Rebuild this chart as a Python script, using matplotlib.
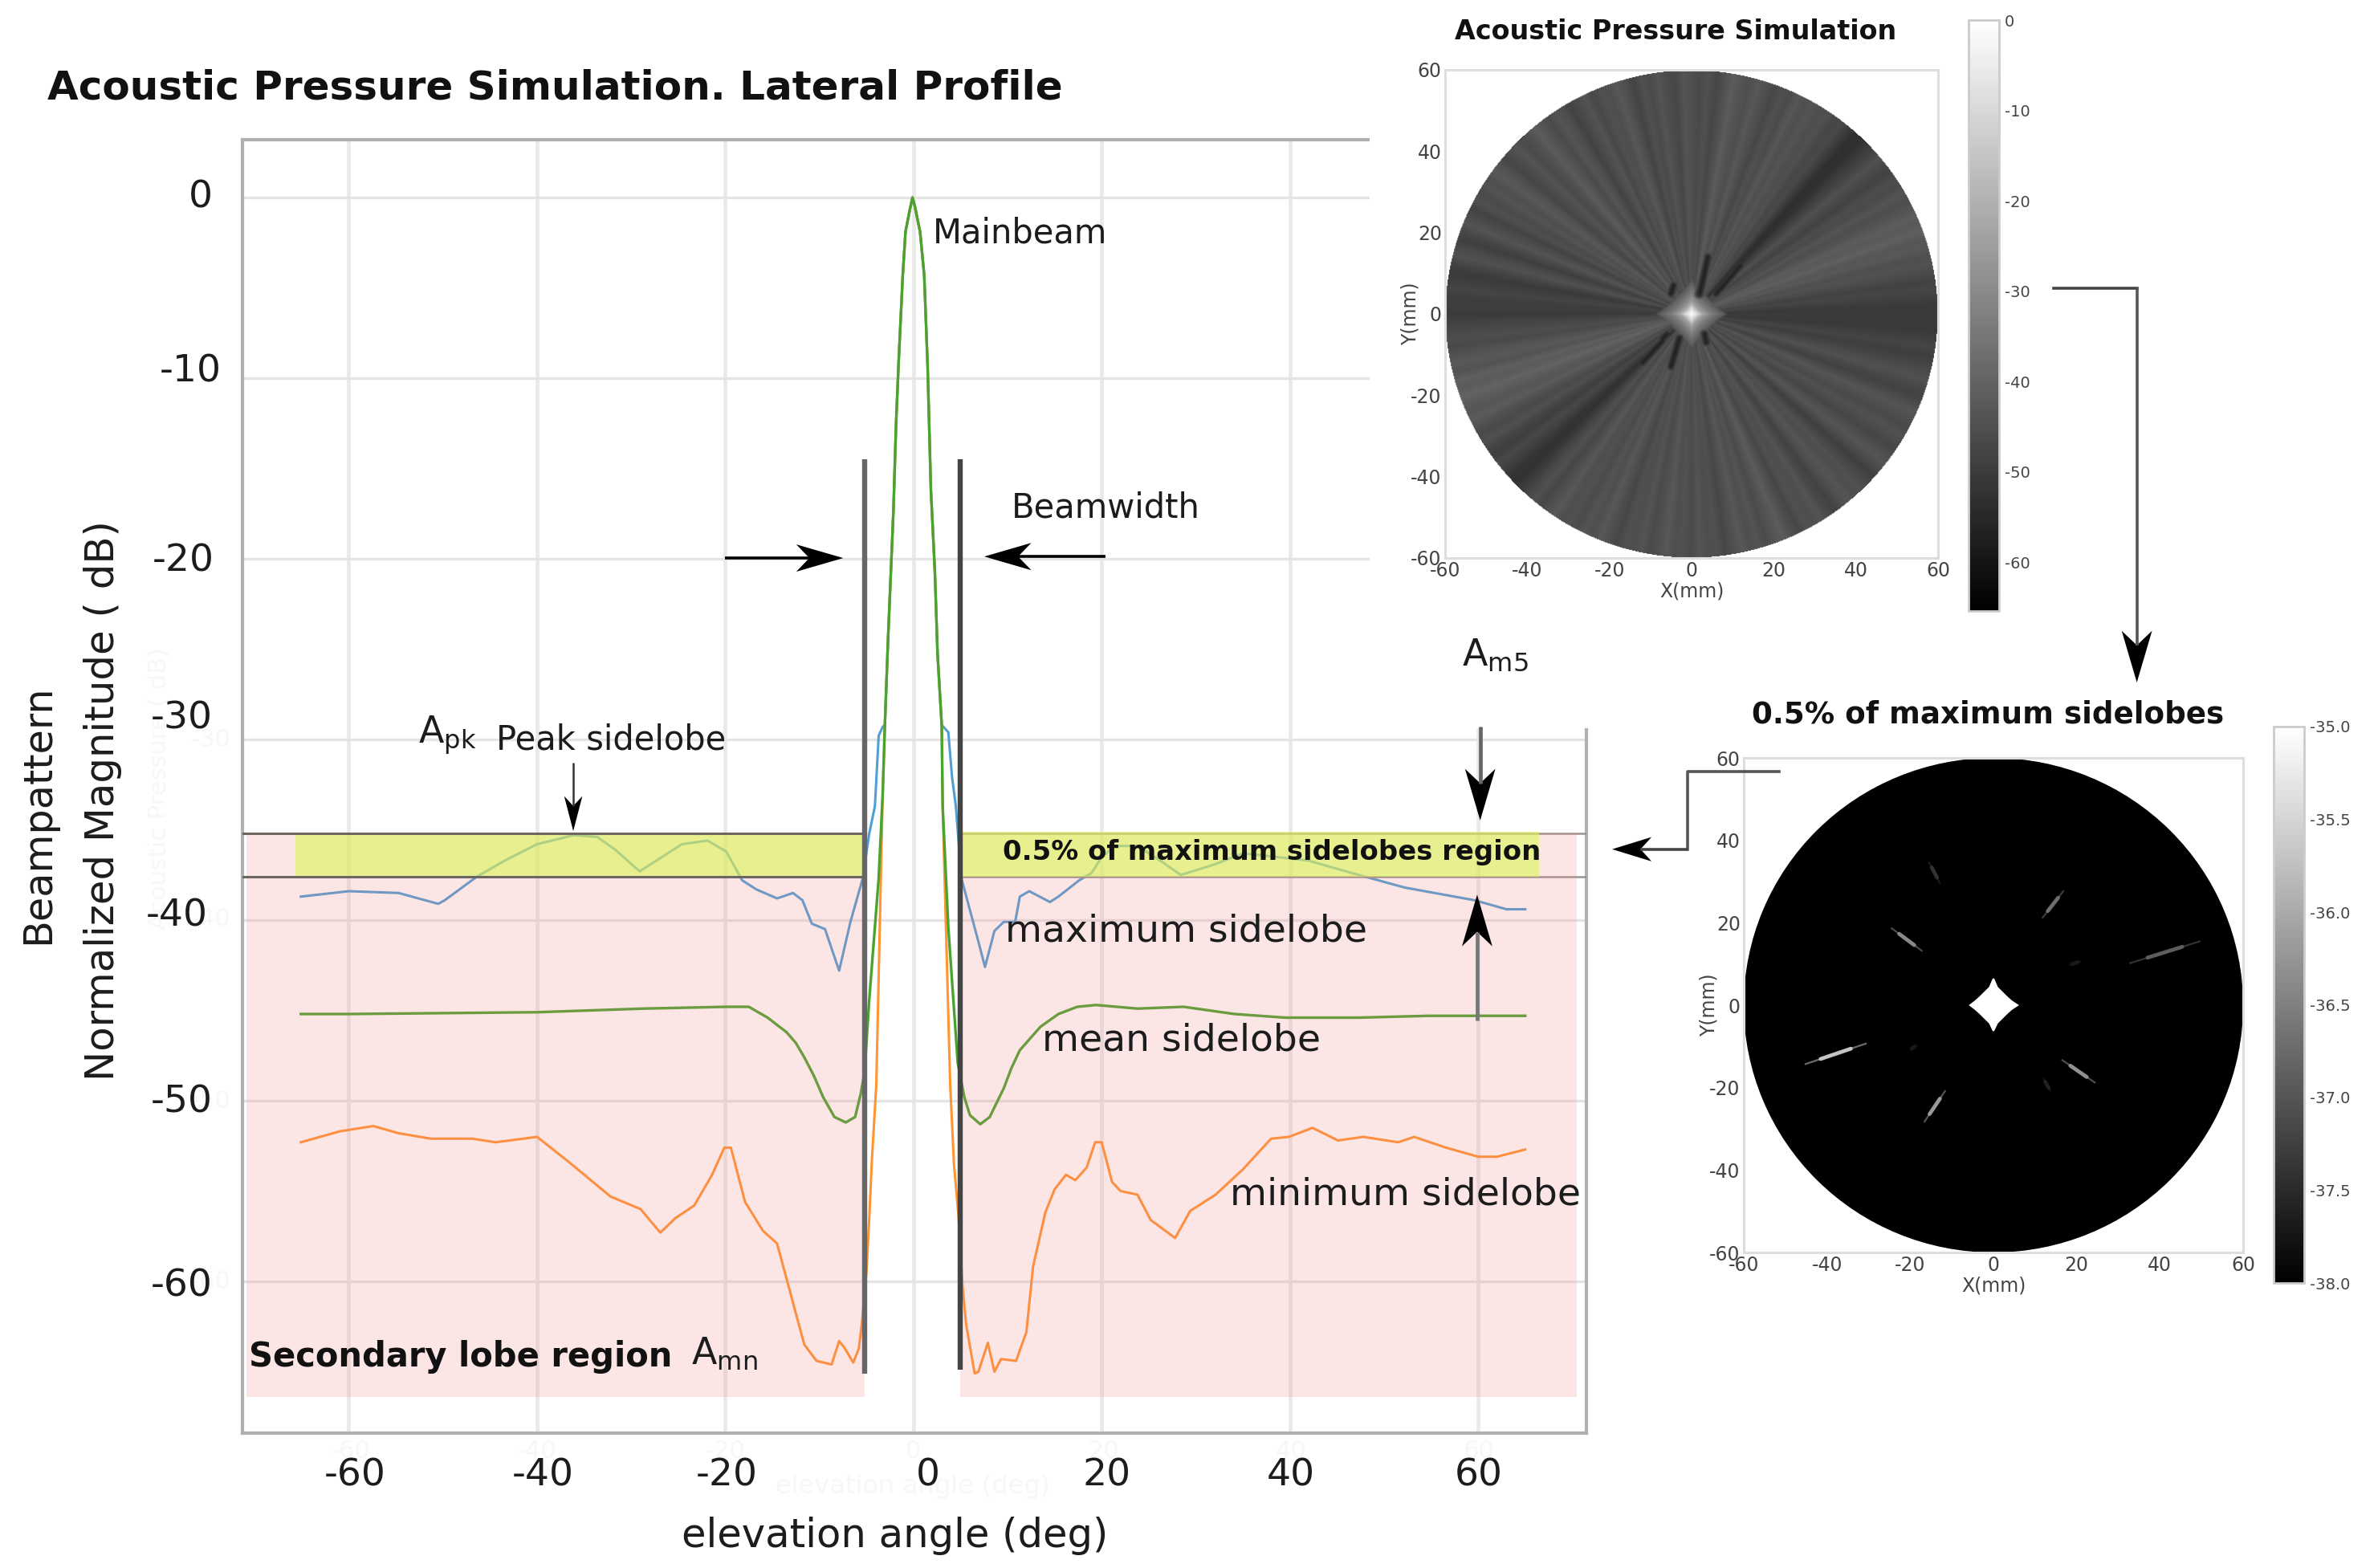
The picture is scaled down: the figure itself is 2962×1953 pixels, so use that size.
import numpy as np
import matplotlib
matplotlib.use('Agg')
import matplotlib.pyplot as plt
from matplotlib.patches import Rectangle, Circle

plt.rcParams['axes.unicode_minus'] = False

# lateral profile (deg, dB)
lobe_deg = [-3.04, -2.7, -2.4, -2.13, -1.85, -1.56, -1.14, -0.85, -0.4, -0.1, 0.15, 0.7, 1.14, 1.5, 1.85, 2.27, 2.56, 3.0]
lobe_db = [-29.2, -24.4, -20.7, -17.3, -12.5, -8.9, -4.3, -1.9, -0.7, 0.0, -0.5, -1.9, -4.3, -9.3, -16.2, -20.7, -25.3, -29.2]

max_left_deg = [-65.1, -60, -54.7, -50.5, -49.8, -46.4, -43.4, -40, -36.1, -33.6, -31.7, -29.1, -27.3, -24.6, -21.9, -19.9, -18.2, -16.7, -14.5, -12.8, -11.8, -10.8, -9.4, -7.9, -6.7, -5.4, -4.7, -4.1, -3.7, -3.27]
max_left_db = [-38.7, -38.4, -38.5, -39.1, -38.9, -37.6, -36.7, -35.8, -35.3, -35.4, -36.1, -37.3, -36.7, -35.8, -35.6, -36.2, -37.8, -38.3, -38.8, -38.5, -38.9, -40.2, -40.5, -42.8, -40.1, -37.7, -35.2, -33.7, -29.8, -29.3]
max_right_deg = [3.7, 4.1, 4.5, 5.1, 6.9, 7.6, 8.6, 9.6, 10.8, 11.3, 12.3, 14.5, 15.4, 17.6, 18.9, 19.9, 21.3, 23.8, 26.2, 28.4, 32.1, 35, 41.9, 47.3, 52.2, 59.6, 63, 65]
max_right_db = [-29.6, -32.1, -33.7, -37.7, -41.2, -42.6, -40.6, -40.1, -40.1, -38.7, -38.4, -39.0, -38.7, -37.8, -37.4, -36.6, -35.9, -35.9, -36.7, -37.5, -36.9, -36.3, -36.7, -37.5, -38.2, -38.9, -39.4, -39.4]

mean_left_deg = [-65.1, -60, -40, -28.7, -19.9, -17.5, -15.5, -13.5, -12.5, -11.6, -10.6, -9.6, -8.4, -7.2, -6.2, -5.6, -5.2, -4.7, -3.7, -3.27]
mean_left_db = [-45.2, -45.2, -45.1, -44.9, -44.8, -44.8, -45.4, -46.2, -46.8, -47.6, -48.6, -49.8, -50.9, -51.2, -50.9, -49.6, -48.4, -44.4, -37.7, -33.0]
mean_right_deg = [3.1, 3.7, 4.7, 5.4, 6.0, 7.1, 8.1, 9.6, 10.4, 11.3, 13.5, 15.4, 17.4, 19.4, 23.8, 28.7, 34.1, 39.5, 47.3, 54.7, 65]
mean_right_db = [-33.7, -40.4, -47.9, -49.8, -50.8, -51.3, -50.9, -49.3, -48.2, -47.2, -45.9, -45.2, -44.8, -44.7, -44.9, -44.8, -45.2, -45.4, -45.4, -45.3, -45.3]

min_left_deg = [-65.1, -61, -57.4, -54.7, -51.3, -46.9, -44.4, -40, -36.6, -32.2, -29, -26.9, -25.3, -23.3, -21.4, -20.1, -19.4, -17.9, -16, -14.5, -13, -11.6, -10.3, -8.7, -7.9, -7.3, -6.4, -5.8, -5.5, -5, -4.7, -4.44, -3.95, -3.27]
min_left_db = [-52.3, -51.7, -51.4, -51.8, -52.1, -52.1, -52.3, -52.0, -53.4, -55.3, -56.0, -57.3, -56.5, -55.8, -54.1, -52.6, -52.6, -55.6, -57.2, -57.9, -60.8, -63.5, -64.4, -64.6, -63.3, -63.7, -64.5, -63.7, -62.4, -59.5, -56.5, -53.5, -49.1, -33.0]
min_right_deg = [3.1, 3.9, 4.3, 4.8, 5.2, 5.6, 6.5, 6.9, 7.9, 8.6, 9.3, 10.9, 12, 12.7, 14, 15, 16.2, 17.2, 18.4, 19.3, 20, 21.1, 22, 23.8, 25.2, 27.8, 29.4, 32.1, 35, 38, 39.9, 42.4, 45.1, 47.8, 51.5, 53.2, 56.6, 60, 62, 65]
min_right_db = [-33.7, -49.1, -53.5, -56.5, -60.2, -62.4, -65.1, -65.0, -63.4, -65.0, -64.3, -64.4, -62.8, -59.2, -56.2, -54.9, -54.1, -54.4, -53.7, -52.3, -52.3, -54.5, -55.0, -55.2, -56.6, -57.6, -56.1, -55.2, -53.8, -52.1, -52.0, -51.5, -52.2, -52.0, -52.3, -52.0, -52.6, -53.1, -53.1, -52.7]

x_ticks = [-60, -40, -20, 0, 20, 40, 60]
y_ticks = [0, -10, -20, -30, -40, -50, -60]

# upper inset: level of each radial streak, one per 2 deg going round from east
spoke_db = [-50, -51, -49, -47, -49, -46, -44, -46, -42, -44, -40, -43, -41, -44, -46,
            -43, -47, -45, -49, -47, -44, -48, -50, -53, -54, -50, -46, -48, -44, -46,
            -43, -46, -42, -47, -44, -48, -45, -42, -46, -44, -41, -45, -48, -44, -47,
            -45, -43, -48, -46, -43, -47, -44, -49, -45, -42, -46, -44, -48, -43, -46,
            -49, -45, -43, -47, -44, -41, -45, -47, -43, -46, -48, -44, -42, -46, -43,
            -47, -44, -49, -46, -43, -47, -50, -46, -44, -48, -51, -49, -47, -50, -49,
            -51, -48, -47, -45, -47, -44, -42, -45, -40, -43, -39, -42, -44, -41, -45,
            -47, -44, -48, -50, -46, -49, -52, -53, -50, -47, -44, -48, -45, -42, -46,
            -44, -47, -43, -46, -42, -45, -48, -44, -46, -43, -47, -45, -42, -46, -44,
            -47, -43, -46, -44, -48, -45, -42, -46, -43, -47, -44, -41, -45, -48, -44,
            -46, -43, -47, -49, -45, -43, -46, -44, -47, -50, -46, -43, -45, -48, -46,
            -44, -47, -45, -43, -46, -49, -47, -44, -46, -48, -50, -47, -49, -51, -50]
glow_dist = [0, 1.5, 3, 5, 8, 11]
glow_db = [0, -10, -24, -33, -42, -65]
# dark marks around the centre of the upper inset (mm)
dark_x0 = [-5.0, 2.0, 6.0, 3.2, -3.0, -6.0, -12.0]
dark_y0 = [5.0, 5.0, 5.0, -5.0, -6.0, -5.0, -12.0]
dark_x1 = [-4.4, 4.0, 12.0, 3.6, -5.0, -7.0, -7.0]
dark_y1 = [7.0, 14.0, 12.0, -7.0, -13.0, -6.0, -6.5]

# lower inset: bright streaks, ends in mm and their level
streak_x0 = [-45.2, -16.6, -24.5, 11.8, 32.8, 16.5, -15.5, 12, 18.2, -20]
streak_y0 = [-14.3, -28.3, 18.7, 21.2, 10.2, -13.3, 34.7, -17.8, 9.7, -10.8]
streak_x1 = [-30.6, -11.6, -17.2, 16.8, 49.6, 24.4, -12.9, 13.7, 21, -18.5]
streak_y1 = [-9.3, -20.8, 13.2, 27.7, 15.5, -18.8, 29.7, -20.8, 10.7, -9.8]
streak_db = [-35.7, -36.2, -36.4, -36.7, -36.9, -36.3, -37.4, -37.6, -37.7, -37.7]
star_x = [0, 0.9, 2.0, 3.2, 4.3, 5.8, 4.3, 3.2, 2.0, 0.9, 0, -0.9, -2.0, -3.2, -4.3, -5.6, -4.3, -3.2, -2.0, -0.9]
star_y = [6.4, 4.3, 3.2, 2.0, 1.0, 0, -1.0, -2.0, -3.2, -4.3, -6.2, -4.3, -3.2, -2.0, -1.0, 0, 1.0, 2.0, 3.2, 4.3]

disc_ticks = [-60, -40, -20, 0, 20, 40, 60]
cbar1_ticks = [0, -10, -20, -30, -40, -50, -60]
cbar2_ticks = [-35.0, -35.5, -36.0, -36.5, -37.0, -37.5, -38.0]

W, H = 2962, 1953
fig = plt.figure(figsize=(W / 100, H / 100), dpi=100)


def box(x0, y0, x1, y1):
    # pixel box to figure fractions
    return [x0 / W, 1 - y1 / H, (x1 - x0) / W, (y1 - y0) / H]


ax = fig.add_axes(box(302, 174, 1976, 1785), zorder=1)
ax.set_xlim(-71.3, 71.5)
ax.set_ylim(-68.4, 3.2)
ax.set_xticks(x_ticks)
ax.set_yticks(y_ticks)
ax.set_xticklabels([])
ax.set_yticklabels([])
ax.tick_params(length=0)
ax.grid(True, axis='x', color='#e9e9e9', lw=3.4)
ax.grid(True, axis='y', color='#e4e4e4', lw=2.4)
ax.set_axisbelow(True)
for s in ax.spines.values():
    s.set_color('#b0b0b0')
    s.set_linewidth(3)

blue, orange, green = '#4f9fd4', '#ff9433', '#4aa32f'
ax.plot(max_left_deg + lobe_deg + max_right_deg, max_left_db + lobe_db + max_right_db, color=blue, lw=2.2)
ax.plot(min_left_deg + lobe_deg + min_right_deg, min_left_db + lobe_db + min_right_db, color=orange, lw=2.2)
ax.plot(mean_left_deg + lobe_deg + mean_right_deg, mean_left_db + lobe_db + mean_right_db, color=green, lw=2.4)

# shaded regions lie over the curves
pink = dict(facecolor='#f08080', alpha=0.2, edgecolor='none', zorder=4)
yellow = dict(facecolor='#dbf657', alpha=0.6, edgecolor='none', zorder=5)
ax.add_patch(Rectangle((-70.9, -66.4), 65.7, 31.2, **pink))
ax.add_patch(Rectangle((5.0, -66.4), 65.5, 31.2, **pink))
ax.add_patch(Rectangle((-65.7, -37.6), 60.5, 2.4, **yellow))
ax.add_patch(Rectangle((5.0, -37.6), 61.5, 2.5, **yellow))

for level in [-35.2, -37.6]:
    ax.plot([-71.3, -5.2], [level, level], color='#6b6660', lw=2.2, zorder=6)
    ax.plot([5.0, 71.5], [level, level], color='#9a9490', lw=1.8, zorder=3)
ax.plot([-5.2, -5.2], [-65.1, -14.5], color='#666666', lw=4.6, zorder=6, solid_capstyle='butt')
ax.plot([5.0, 5.0], [-64.9, -14.5], color='#444444', lw=4.6, zorder=6, solid_capstyle='butt')

# the insets sit on white, it hides the upper right of the big plot
mask = fig.add_axes([0, 0, 1, 1], zorder=2)
mask.set_xlim(0, 1568)
mask.set_ylim(1034, 0)
mask.axis('off')
mask.add_patch(Rectangle((903, 0), 665, 480, facecolor='white', edgecolor='none'))


def style_disc(a):
    a.set_xlim(-60, 60)
    a.set_ylim(-60, 60)
    a.set_xticks(disc_ticks)
    a.set_yticks(disc_ticks)
    a.tick_params(labelsize=17, length=0, pad=3, labelcolor='#444444')
    a.set_xlabel('X(mm)', fontsize=17, color='#444444', labelpad=1)
    a.set_ylabel('Y(mm)', fontsize=17, color='#444444', labelpad=-8)
    for s in a.spines.values():
        s.set_color('#dddddd')
        s.set_linewidth(2.2)


def style_cbar(a, im, ticks, fmt):
    cb = fig.colorbar(im, cax=a)
    cb.set_ticks(ticks)
    cb.set_ticklabels([fmt % t for t in ticks])
    cb.ax.tick_params(labelsize=14, length=0, pad=5, labelcolor='#444444')
    cb.outline.set_edgecolor('#cccccc')
    cb.outline.set_linewidth(2)


# upper inset
ax1 = fig.add_axes(box(1800, 87, 2414, 695), zorder=3)
grid_mm = np.linspace(-60, 60, 601)
xx, yy = np.meshgrid(grid_mm, grid_mm)
rr = np.hypot(xx, yy)
angle = np.degrees(np.arctan2(yy, xx)) % 360
spoke_angle = np.arange(len(spoke_db) + 1) * 2
# the streaks are a bit soft in the original
soft = np.convolve(spoke_db[-1:] + spoke_db + spoke_db[:1], [0.12, 0.76, 0.12], mode='valid')
field = np.interp(angle, spoke_angle, np.append(soft, soft[0]))
star_dist = (np.abs(xx) ** 0.9 + np.abs(yy) ** 0.9) ** (1 / 0.9)
field = np.maximum(field, np.interp(star_dist, glow_dist, glow_db))
for x0, y0, x1, y1 in zip(dark_x0, dark_y0, dark_x1, dark_y1):
    seg = np.array([x1 - x0, y1 - y0])
    t = np.clip(((xx - x0) * seg[0] + (yy - y0) * seg[1]) / (seg @ seg), 0, 1)
    dist = np.hypot(xx - x0 - t * seg[0], yy - y0 - t * seg[1])
    field = np.minimum(field, np.interp(dist, [0, 0.6, 1.4], [-57, -52, -40], right=0))
field = np.ma.masked_where(rr > 60, field)
cmap = plt.get_cmap('gray').copy()
cmap.set_bad('white')
im1 = ax1.imshow(field, extent=(-60, 60, -60, 60), origin='lower', cmap=cmap,
                 vmin=-65.4, vmax=0, interpolation='bilinear', aspect='auto')
style_disc(ax1)
cax1 = fig.add_axes(box(2452, 25, 2490, 761), zorder=3)
style_cbar(cax1, im1, cbar1_ticks, '%d')

# lower inset
ax2 = fig.add_axes(box(2172, 944, 2794, 1560), zorder=3)
ax2.add_patch(Circle((0, 0), 60, facecolor='black', edgecolor='none'))
norm2 = plt.Normalize(-38, -35)
for x0, y0, x1, y1, lev in zip(streak_x0, streak_y0, streak_x1, streak_y1, streak_db):
    c = plt.cm.gray(norm2(lev))
    ax2.plot([x0, x1], [y0, y1], color=c, lw=1.6, alpha=0.55, solid_capstyle='round')
    mid_x, mid_y = (x0 + x1) / 2, (y0 + y1) / 2
    ax2.plot([(x0 + mid_x) / 2, (x1 + mid_x) / 2], [(y0 + mid_y) / 2, (y1 + mid_y) / 2],
             color=c, lw=3.4, solid_capstyle='round')
ax2.fill(star_x, star_y, color='white', lw=1.5)
style_disc(ax2)
im2 = plt.cm.ScalarMappable(norm=norm2, cmap='gray')
cax2 = fig.add_axes(box(2832, 905, 2870, 1598), zorder=3)
style_cbar(cax2, im2, cbar2_ticks, '%.1f')

# text and arrows, placed in the 1568 wide frame of the page
ov = fig.add_axes([0, 0, 1, 1], zorder=4)
ov.set_xlim(0, 1568)
ov.set_ylim(1034, 0)
ov.axis('off')
ov.patch.set_alpha(0)

dark = '#1c1c1c'
ghost = '#f7f7f7'

# faint leftovers of an older plot under the labels
for t, gx in zip(x_ticks, [231, 354, 478, 602, 728, 851, 975]):
    ov.text(gx, 957, str(t), fontsize=22, color=ghost, ha='center', va='center')
for t, gy in zip(y_ticks[3:], [488, 606, 726, 845]):
    ov.text(152, gy, str(t), fontsize=22, color=ghost, ha='right', va='center')
ov.text(105, 520, 'Acoustic Pressure ( dB)', fontsize=22, color=ghost, rotation=90, ha='center', va='center')
ov.text(602, 980, 'elevation angle (deg)', fontsize=23, color=ghost, ha='center', va='center')

# tick labels were set by hand in the original, they do not sit quite on their ticks
for t, tx in zip(x_ticks, [234, 358, 479, 612, 730, 851, 975]):
    ov.text(tx, 973, str(t), fontsize=34, color=dark, ha='center', va='center')
for t, tx, ty in zip(y_ticks, [140, 146, 141, 140, 137, 140, 140], [130, 245, 370, 474, 604, 727, 848]):
    ov.text(tx, ty, str(t), fontsize=34, color=dark, ha='right', va='center')

ov.text(31, 58, 'Acoustic Pressure Simulation. Lateral Profile', fontsize=36, fontweight='bold', color='#111111', va='center')
ov.text(1105, 21, 'Acoustic Pressure Simulation', fontsize=24, fontweight='bold', color='#111111', ha='center', va='center')
ov.text(1311, 471, '0.5% of maximum sidelobes', fontsize=26.8, fontweight='bold', color='#111111', ha='center', va='center')
ov.text(25, 537, 'Beampattern', fontsize=35.5, rotation=90, ha='center', va='center', color=dark)
ov.text(68, 528, 'Normalized Magnitude ( dB)', fontsize=35.8, rotation=90, ha='center', va='center', color=dark)
ov.text(590, 1013, 'elevation angle (deg)', fontsize=35.7, ha='center', va='center', color=dark)

ov.text(615, 154, 'Mainbeam', fontsize=30, va='center', color=dark)
ov.text(667, 335, 'Beamwidth', fontsize=30, va='center', color=dark)
ov.text(276, 485, r'A$_{\mathrm{pk}}$', fontsize=33, va='center', color=dark)
ov.text(327, 488, 'Peak sidelobe', fontsize=30, va='center', color=dark)
ov.text(964, 432, r'A$_{\mathrm{m5}}$', fontsize=33, va='center', color=dark)
ov.text(456, 893, r'A$_{\mathrm{mn}}$', fontsize=33, va='center', color=dark)
ov.text(164, 895, 'Secondary lobe region', fontsize=30, fontweight='bold', va='center', color='#111111')
ov.text(661, 562, '0.5% of maximum sidelobes region', fontsize=24.4, fontweight='bold', va='center', color='#111111')
ov.text(663, 614, 'maximum sidelobe', fontsize=34, va='center', color=dark)
ov.text(687, 686, 'mean sidelobe', fontsize=34, va='center', color=dark)
ov.text(811, 788, 'minimum sidelobe', fontsize=34, va='center', color=dark)


def arrow(x0, y0, x1, y1, color='black', lw=2.6, size=31, half=9):
    # shaft and a swept back head, frame units are square
    d = np.array([x1 - x0, y1 - y0], dtype=float)
    d /= np.hypot(*d)
    n = np.array([-d[1], d[0]])
    tip = np.array([x1, y1], dtype=float)
    back = tip - d * size
    head = np.array([tip, back + n * half, tip - d * size * 0.72, back - n * half])
    stop = tip - d * size * 0.72
    ov.plot([x0, stop[0]], [y0, stop[1]], color=color, lw=lw, solid_capstyle='butt')
    ov.fill(head[:, 0], head[:, 1], color='black', lw=0)


arrow(478, 368, 556, 368)
arrow(729, 367, 649, 367)
arrow(378, 503, 378, 548, color='#333333', lw=1.8, size=23, half=6)
arrow(976, 479, 976, 541, color='#666666', lw=3.4, size=34, half=10)
arrow(974, 673, 974, 590, color='#777777', lw=3.4, size=34, half=10)
ov.plot([1354, 1409], [190, 190], color='#444444', lw=2.6)
arrow(1409, 190, 1409, 450, color='#555555', lw=2.6, size=34, half=10)
ov.plot([1173, 1113, 1113], [509, 509, 560], color='#555555', lw=2.6)
arrow(1113, 560, 1063, 560, color='#444444', lw=2.6, size=26, half=8)

fig.savefig('out.png', dpi=100, facecolor='white')
